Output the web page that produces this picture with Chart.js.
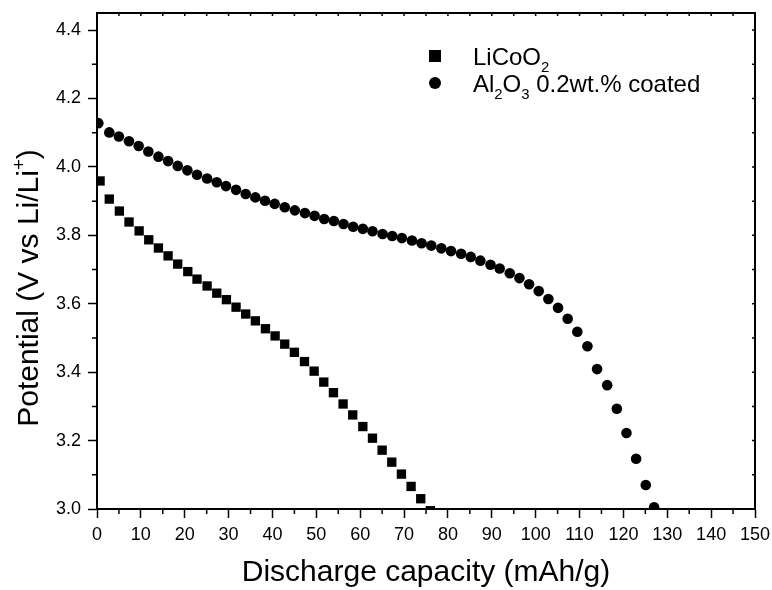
<!DOCTYPE html>
<html>
<head>
<meta charset="utf-8">
<script src="https://cdn.jsdelivr.net/npm/chart.js@4.4.1/dist/chart.umd.min.js"></script>
<style>
  html, body { margin: 0; padding: 0; background: #fff; }
</style>
</head>
<body>
<canvas id="discharge-chart" width="772" height="590"></canvas>
<script>
// LiCoO2 (squares)
const capacityLiCoO2 = [0.7, 2.8, 5.1, 7.3, 9.6, 11.8, 14.0, 16.2, 18.4, 20.7, 22.8, 25.1, 27.3, 29.5,
  31.7, 33.9, 36.1, 38.4, 40.6, 42.8, 45.0, 47.3, 49.5, 51.7, 53.9, 56.1, 58.3, 60.6, 62.8,
  65.0, 67.2, 69.4, 71.6, 73.8, 76.0];
const potentialLiCoO2 = [3.959, 3.906, 3.871, 3.839, 3.813, 3.787, 3.763, 3.740, 3.716, 3.694, 3.672,
  3.652, 3.631, 3.612, 3.590, 3.570, 3.550, 3.527, 3.506, 3.482, 3.458, 3.431, 3.403, 3.371,
  3.340, 3.307, 3.275, 3.241, 3.207, 3.172, 3.137, 3.102, 3.066, 3.030, 2.995];

// Al2O3 0.2wt.% coated (circles)
const capacityCoated = [0.3, 2.8, 5.0, 7.3, 9.5, 11.7, 14.0, 16.2, 18.4, 20.6, 22.8, 25.1, 27.3, 29.4,
  31.7, 33.9, 36.1, 38.3, 40.5, 42.8, 45.1, 47.4, 49.6, 51.8, 54.0, 56.2, 58.4, 60.6, 62.8,
  65.1, 67.3, 69.5, 71.8, 74.0, 76.2, 78.5, 80.7, 83.0, 85.2, 87.4, 89.7, 91.8, 94.1, 96.3,
  98.5, 100.7, 102.9, 105.1, 107.3, 109.5, 111.8, 114.0, 116.3, 118.5, 120.7, 122.9, 125.1, 127.0];
const potentialCoated = [4.128, 4.101, 4.089, 4.075, 4.061, 4.045, 4.030, 4.017, 4.003, 3.990, 3.977,
  3.966, 3.955, 3.944, 3.933, 3.921, 3.911, 3.901, 3.892, 3.882, 3.873, 3.865, 3.857, 3.848,
  3.842, 3.833, 3.825, 3.819, 3.812, 3.804, 3.798, 3.792, 3.785, 3.777, 3.770, 3.762, 3.754,
  3.746, 3.737, 3.726, 3.714, 3.703, 3.689, 3.675, 3.657, 3.637, 3.614, 3.588, 3.556, 3.518,
  3.476, 3.409, 3.362, 3.293, 3.222, 3.147, 3.070, 3.005];

const xTickValues = [0, 10, 20, 30, 40, 50, 60, 70, 80, 90, 100, 110, 120, 130, 140, 150];
const yTickValues = [3.0, 3.2, 3.4, 3.6, 3.8, 4.0, 4.2, 4.4];

const FONT = '"Liberation Sans", Arial, Helvetica, sans-serif';

const xMinor = xTickValues.slice(0, -1).map((v, i) => (v + xTickValues[i + 1]) / 2);
const yMinor = yTickValues.slice(0, -1).map((v, i) => (v + yTickValues[i + 1]) / 2);

const toPoints = (xs, ys) => xs.map((x, i) => ({ x: x, y: ys[i] }));

// text with subscripts / superscripts: parts = [[text, kind]]
function richWidth(ctx, parts, size) {
  let w = 0;
  parts.forEach(([t, k]) => {
    ctx.font = (k === "n" ? size : size * 0.62) + "px " + FONT;
    w += ctx.measureText(t).width;
  });
  return w;
}
function drawRich(ctx, parts, x, y, size) {
  let cx = x;
  parts.forEach(([t, k]) => {
    const s = k === "n" ? size : size * 0.62;
    const dy = k === "sub" ? size * 0.28 : k === "sup" ? -size * 0.42 : 0;
    ctx.font = s + "px " + FONT;
    ctx.fillText(t, cx, y + dy);
    cx += ctx.measureText(t).width;
  });
}

// no extra room for the end labels, the frame is placed by layout padding
function noEdgePadding(s) {
  s.paddingTop = 0;
  s.paddingBottom = 0;
  s.paddingLeft = 0;
  s.paddingRight = 0;
}

const framePlugin = {
  id: "framePlugin",
  afterDraw(chart) {
    const { ctx, chartArea: a, scales: { x, y } } = chart;
    ctx.save();
    ctx.strokeStyle = "#000";
    ctx.fillStyle = "#000";
    ctx.lineWidth = 2;
    ctx.strokeRect(a.left, a.top, a.right - a.left, a.bottom - a.top);

    ctx.lineWidth = 1.5;
    ctx.beginPath();
    xMinor.forEach(v => {
      const px = x.getPixelForValue(v);
      ctx.moveTo(px, a.bottom);
      ctx.lineTo(px, a.bottom + 5);
    });
    yMinor.forEach(v => {
      const py = y.getPixelForValue(v);
      ctx.moveTo(a.left, py);
      ctx.lineTo(a.left - 5, py);
    });
    xTickValues.concat(xMinor).forEach(v => {
      const px = x.getPixelForValue(v);
      ctx.moveTo(px, a.top);
      ctx.lineTo(px, a.top + 3);
    });
    yTickValues.concat(yMinor).forEach(v => {
      const py = y.getPixelForValue(v);
      ctx.moveTo(a.right, py);
      ctx.lineTo(a.right - 3, py);
    });
    ctx.stroke();

    // axis titles
    ctx.textBaseline = "alphabetic";
    const xt = [["Discharge capacity (mAh/g)", "n"]];
    const xs = 30;
    drawRich(ctx, xt, (a.left + a.right) / 2 - richWidth(ctx, xt, xs) / 2, 581, xs);

    const yt = [["Potential (V vs Li/Li", "n"], ["+", "sup"], [")", "n"]];
    const ys = 30;
    ctx.save();
    ctx.translate(38, 288);
    ctx.rotate(-Math.PI / 2);
    drawRich(ctx, yt, -richWidth(ctx, yt, ys) / 2, 0, ys);
    ctx.restore();

    // legend
    const ls = 24;
    ctx.fillRect(429, 50, 12, 12);
    drawRich(ctx, [["LiCoO", "n"], ["2", "sub"]], 473, 65, ls);
    ctx.beginPath();
    ctx.arc(435, 83, 6, 0, Math.PI * 2);
    ctx.fill();
    drawRich(ctx, [["Al", "n"], ["2", "sub"], ["O", "n"], ["3", "sub"], [" 0.2wt.% coated", "n"]], 473, 92, ls);
    ctx.restore();
  }
};

new Chart(document.getElementById("discharge-chart"), {
  type: "scatter",
  data: {
    datasets: [
      {
        label: "LiCoO2",
        data: toPoints(capacityLiCoO2, potentialLiCoO2),
        pointStyle: "rect",
        pointRadius: 6.6,
        pointBorderWidth: 0,
        backgroundColor: "#000",
        borderColor: "#000",
      },
      {
        label: "Al2O3 0.2wt.% coated",
        data: toPoints(capacityCoated, potentialCoated),
        pointStyle: "circle",
        pointRadius: 5.3,
        pointBorderWidth: 0,
        backgroundColor: "#000",
        borderColor: "#000",
      },
    ],
  },
  options: {
    responsive: false,
    animation: false,
    layout: { padding: { left: 0, top: 13, right: 17, bottom: 0 } },
    plugins: {
      legend: { display: false },
      tooltip: { enabled: false },
    },
    scales: {
      x: {
        type: "linear",
        min: 0,
        max: 150,
        afterBuildTicks: s => { s.ticks = xTickValues.map(v => ({ value: v })); },
        afterFit: s => { s.height = 81; noEdgePadding(s); },
        ticks: {
          autoSkip: false,
          maxRotation: 0,
          padding: 6,
          color: "#000",
          font: { family: FONT, size: 18 },
        },
        grid: { drawOnChartArea: false, tickLength: 9, tickWidth: 1.5, tickColor: "#000" },
        border: { color: "#000", width: 2 },
      },
      y: {
        type: "linear",
        min: 3.0,
        max: 4.45,
        afterBuildTicks: s => { s.ticks = yTickValues.map(v => ({ value: v })); },
        afterFit: s => { s.width = 97; noEdgePadding(s); },
        ticks: {
          autoSkip: false,
          padding: 7,
          color: "#000",
          font: { family: FONT, size: 18 },
          callback: v => v.toFixed(1),
        },
        grid: { drawOnChartArea: false, tickLength: 9, tickWidth: 1.5, tickColor: "#000" },
        border: { color: "#000", width: 2 },
      },
    },
  },
  plugins: [framePlugin],
});
</script>
</body>
</html>
